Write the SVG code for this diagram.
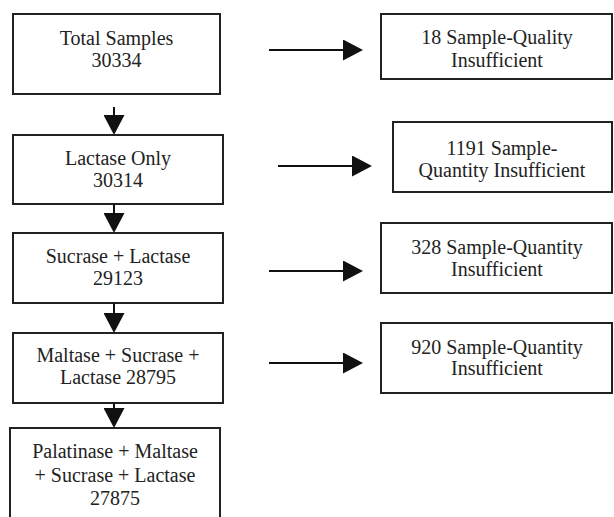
<svg xmlns="http://www.w3.org/2000/svg" width="614" height="517" viewBox="0 0 614 517">
  <style>
    .box { fill: #ffffff; stroke: #222222; stroke-width: 2; }
    .lbl { font-family: 'Liberation Serif', 'Times New Roman', Times, serif; font-size: 20px; fill: #222222; text-anchor: middle; }
    .conn { stroke: #111111; stroke-width: 2; fill: none; marker-end: url(#ah); }
  </style>
  <defs>
    <marker id="ah" markerUnits="userSpaceOnUse" markerWidth="20" markerHeight="21" viewBox="0 0 20 21" refX="10" refY="10.5" orient="auto">
      <path d="M0,0 L20,10.5 L0,21 Z" fill="#111111"/>
    </marker>
  </defs>
  <rect width="614" height="517" fill="#ffffff"/>

  <g id="total">
    <rect class="box" x="13" y="14" width="207" height="80"/>
    <text class="lbl" x="116.5" y="45">Total Samples</text>
    <text class="lbl" x="116.5" y="67">30334</text>
  </g>
  <g id="lactase">
    <rect class="box" x="13" y="135" width="210" height="69"/>
    <text class="lbl" x="118" y="165">Lactase Only</text>
    <text class="lbl" x="118" y="187">30314</text>
  </g>
  <g id="sucrase">
    <rect class="box" x="13" y="233" width="210" height="70"/>
    <text class="lbl" x="118" y="263">Sucrase + Lactase</text>
    <text class="lbl" x="118" y="285">29123</text>
  </g>
  <g id="maltase">
    <rect class="box" x="13" y="333" width="210" height="70"/>
    <text class="lbl" x="118" y="362">Maltase + Sucrase +</text>
    <text class="lbl" x="118" y="384">Lactase 28795</text>
  </g>
  <g id="palatinase">
    <rect class="box" x="10" y="428" width="210" height="95"/>
    <text class="lbl" x="115" y="458">Palatinase + Maltase</text>
    <text class="lbl" x="115" y="482">+ Sucrase + Lactase</text>
    <text class="lbl" x="115" y="505">27875</text>
  </g>

  <g id="excl1">
    <rect class="box" x="381" y="14" width="231" height="65"/>
    <text class="lbl" x="497" y="44">18 Sample-Quality</text>
    <text class="lbl" x="497" y="67">Insufficient</text>
  </g>
  <g id="excl2">
    <rect class="box" x="393" y="122" width="219" height="70"/>
    <text class="lbl" x="502" y="155">1191 Sample-</text>
    <text class="lbl" x="502" y="177">Quantity Insufficient</text>
  </g>
  <g id="excl3">
    <rect class="box" x="381" y="223" width="231" height="70"/>
    <text class="lbl" x="497" y="254">328 Sample-Quantity</text>
    <text class="lbl" x="497" y="276">Insufficient</text>
  </g>
  <g id="excl4">
    <rect class="box" x="381" y="323" width="231" height="70"/>
    <text class="lbl" x="497" y="354">920 Sample-Quantity</text>
    <text class="lbl" x="497" y="375">Insufficient</text>
  </g>

  <g id="connectors">
    <line class="conn" x1="114" y1="107" x2="114" y2="125"/>
    <line class="conn" x1="114" y1="204" x2="114" y2="223"/>
    <line class="conn" x1="114" y1="303" x2="114" y2="323"/>
    <line class="conn" x1="114" y1="403" x2="114" y2="418"/>
    <line class="conn" x1="269" y1="50" x2="353" y2="50"/>
    <line class="conn" x1="278" y1="166" x2="362" y2="166"/>
    <line class="conn" x1="269" y1="271" x2="353" y2="271"/>
    <line class="conn" x1="269" y1="363" x2="353" y2="363"/>
  </g>
</svg>
